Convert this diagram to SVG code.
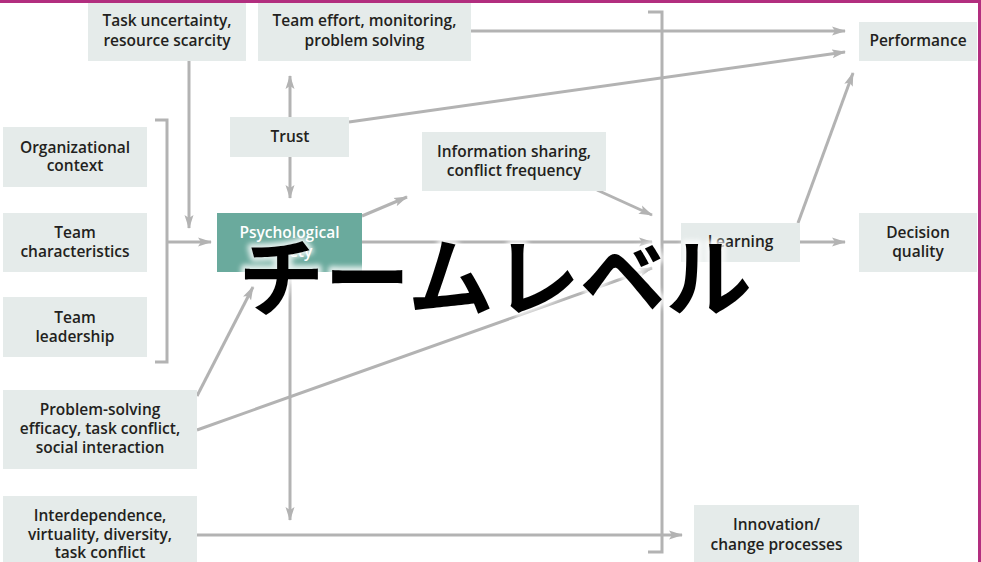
<svg xmlns="http://www.w3.org/2000/svg" width="981" height="562" viewBox="0 0 981 562">
  <defs>
    <marker id="arrow" viewBox="0 0 14 10" refX="13" refY="5" markerWidth="14" markerHeight="10" markerUnits="userSpaceOnUse" orient="auto">
      <path d="M0,0.5 L14,5 L0,9.5 L3,5 Z" fill="#b3b3b3"/>
    </marker>
    <filter id="halo" x="-10%" y="-30%" width="120%" height="160%">
      <feGaussianBlur stdDeviation="2.5"/>
    </filter>
    <style>
      .box { fill: #e5ebea; }
      .safe { fill: #6aaa9d; }
      .lbl { font-family: "Open Sans", "Noto Sans", "Liberation Sans", sans-serif; font-weight: 600; font-size: 15.5px; fill: #231f20; text-anchor: middle; }
      .lbl.w { fill: #ffffff; }
      .ln { fill: none; stroke: #b3b3b3; stroke-width: 3; }
      .arr { marker-end: url(#arrow); }
      .jp { font-family: "Noto Sans CJK JP", "Noto Sans CJK SC", sans-serif; font-weight: 700; font-size: 86px; text-anchor: middle; }
    </style>
  </defs>

  <rect x="0" y="0" width="981" height="562" fill="#ffffff"/>

  <!-- connectors -->
  <g id="connectors">
    <!-- left bracket gathering the three antecedents -->
    <polyline class="ln" points="155,120 167,120 167,362 155,362"/>
    <line class="ln arr" x1="167" y1="242" x2="211" y2="242"/>
    <line class="ln arr" x1="189" y1="61" x2="189" y2="228"/>
    <!-- trust up / down -->
    <line class="ln arr" x1="290" y1="117" x2="290" y2="76"/>
    <line class="ln arr" x1="290" y1="157" x2="290" y2="198"/>
    <!-- psychological safety outputs -->
    <line class="ln arr" x1="362" y1="216" x2="407" y2="197"/>
    <line class="ln arr" x1="362" y1="242" x2="652" y2="242"/>
    <line class="ln arr" x1="290" y1="272" x2="290" y2="520"/>
    <!-- right bracket -->
    <polyline class="ln" points="648,12 662,12 662,552 648,552"/>
    <line class="ln" x1="662" y1="242" x2="681" y2="242"/>
    <line class="ln arr" x1="597" y1="190" x2="652" y2="215"/>
    <!-- problem-solving links -->
    <line class="ln arr" x1="197" y1="430" x2="652" y2="268"/>
    <line class="ln arr" x1="197" y1="396" x2="253" y2="287"/>
    <!-- interdependence to innovation -->
    <line class="ln arr" x1="197" y1="535" x2="682" y2="535"/>
    <!-- outcomes -->
    <line class="ln arr" x1="471" y1="31" x2="845" y2="31"/>
    <line class="ln arr" x1="349" y1="122" x2="845" y2="52"/>
    <line class="ln arr" x1="798" y1="223" x2="853" y2="73"/>
    <line class="ln arr" x1="800" y1="242" x2="845" y2="242"/>
  </g>

  <!-- nodes -->
  <g id="task-uncertainty">
    <rect class="box" x="88" y="3" width="158" height="58"/>
    <text class="lbl" x="167" y="26">Task uncertainty,<tspan x="167" dy="20">resource scarcity</tspan></text>
  </g>
  <g id="team-effort">
    <rect class="box" x="258" y="3" width="213" height="58"/>
    <text class="lbl" x="364.5" y="26">Team effort, monitoring,<tspan x="364.5" dy="20">problem solving</tspan></text>
  </g>
  <g id="organizational-context">
    <rect class="box" x="3" y="127" width="144" height="60"/>
    <text class="lbl" x="75" y="153">Organizational<tspan x="75" dy="18">context</tspan></text>
  </g>
  <g id="trust">
    <rect class="box" x="230" y="117" width="119" height="40"/>
    <text class="lbl" x="290" y="142">Trust</text>
  </g>
  <g id="information-sharing">
    <rect class="box" x="422" y="132" width="184" height="59"/>
    <text class="lbl" x="514" y="157">Information sharing,<tspan x="514" dy="19">conflict frequency</tspan></text>
  </g>
  <g id="psychological-safety">
    <rect class="safe" x="217" y="213" width="145" height="59"/>
    <text class="lbl w" x="289.5" y="238">Psychological<tspan x="289.5" dy="19">safety</tspan></text>
  </g>
  <g id="team-characteristics">
    <rect class="box" x="3" y="213" width="144" height="59"/>
    <text class="lbl" x="75" y="238">Team<tspan x="75" dy="19">characteristics</tspan></text>
  </g>
  <g id="team-leadership">
    <rect class="box" x="3" y="297" width="144" height="60"/>
    <text class="lbl" x="75" y="323">Team<tspan x="75" dy="19">leadership</tspan></text>
  </g>
  <g id="problem-solving">
    <rect class="box" x="3" y="390" width="194" height="79"/>
    <text class="lbl" x="100" y="415">Problem-solving<tspan x="100" dy="19">efficacy, task conflict,</tspan><tspan x="100" dy="19">social interaction</tspan></text>
  </g>
  <g id="interdependence">
    <rect class="box" x="3" y="496" width="194" height="70"/>
    <text class="lbl" x="100" y="521">Interdependence,<tspan x="100" dy="19">virtuality, diversity,</tspan><tspan x="100" dy="18">task conflict</tspan></text>
  </g>
  <g id="performance">
    <rect class="box" x="859" y="22" width="118" height="39"/>
    <text class="lbl" x="918" y="46">Performance</text>
  </g>
  <g id="learning">
    <rect class="box" x="681" y="223" width="119" height="39"/>
    <text class="lbl" x="740.5" y="247">Learning</text>
  </g>
  <g id="decision-quality">
    <rect class="box" x="859" y="213" width="118" height="59"/>
    <text class="lbl" x="918" y="238">Decision<tspan x="918" dy="19">quality</tspan></text>
  </g>
  <g id="innovation">
    <rect class="box" x="694" y="505" width="165" height="61"/>
    <text class="lbl" x="776.5" y="530">Innovation/<tspan x="776.5" dy="20">change processes</tspan></text>
  </g>

  <!-- overlaid caption -->
  <g id="caption">
    <text class="jp" x="495" y="310" fill="#ffffff" stroke="#ffffff" stroke-width="8" stroke-linejoin="round" filter="url(#halo)" opacity="0.8">チームレベル</text>
    <text class="jp" x="495" y="310" fill="#000000">チームレベル</text>
  </g>

  <!-- frame -->
  <rect x="0" y="0" width="981" height="3" fill="#b22e7f"/>
  <rect x="978" y="0" width="3" height="562" fill="#b22e7f"/>
</svg>
